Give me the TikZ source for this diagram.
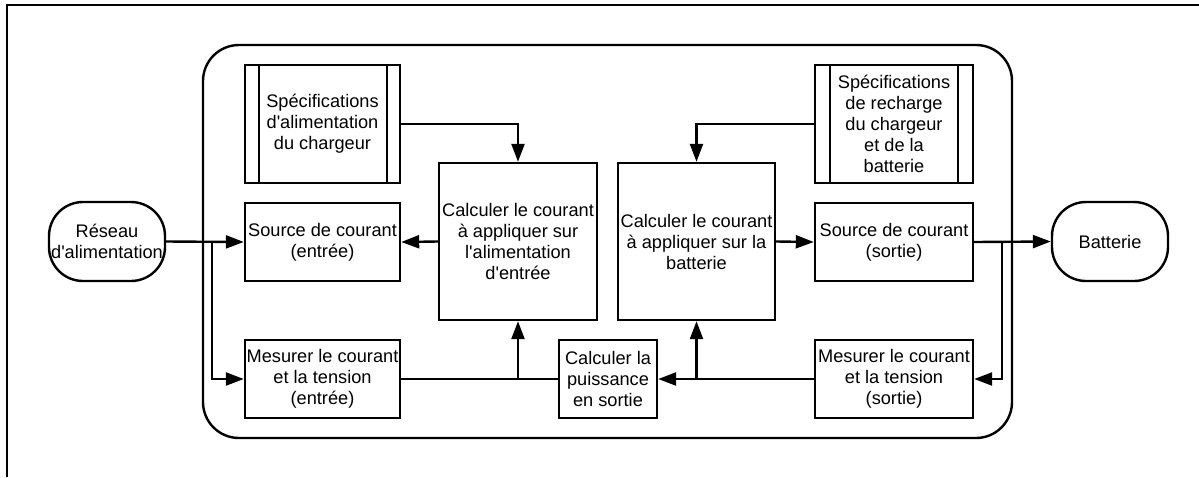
\documentclass[tikz,border=0pt]{standalone}
\usepackage{fontspec}
\setmainfont{Liberation Sans}
\usetikzlibrary{arrows.meta,calc}
\newcommand{\ap}{\textquotesingle}
\newcommand{\fs}{\fontsize{18.2}{21}\selectfont}
\begin{document}
\begin{tikzpicture}[x=1pt,y=-1pt,
  line width=2.4pt,
  box/.style={draw, line width=2.4pt, align=center, inner sep=0pt, font=\fs},
  term/.style={box, rounded corners=34pt, minimum width=116pt, minimum height=79pt},
  arr/.style={-{Triangle[length=18pt,width=13pt]}}]
\useasboundingbox (0,0) rectangle (1199,477);
% frame
\draw[line width=2.5pt] (7,477) -- (7,5) -- (1199,5);
% container
\draw[rounded corners=36pt] (203,45) rectangle (1012,438);
% nodes
\node[term] (rs) at (107,241.5) {R\'eseau\\d\ap alimentation};
\node[term] (bat) at (1110,241.5) {Batterie};
\node[box, minimum width=155pt, minimum height=118pt] (s1) at (322.5,124) {Sp\'ecifications\\d\ap alimentation\\du chargeur};
\node[box, minimum width=158pt, minimum height=118pt] (s2) at (894,124) {Sp\'ecifications\\de recharge\\du chargeur\\et de la\\batterie};
\draw ([xshift=15pt]s1.north west) -- ([xshift=15pt]s1.south west);
\draw ([xshift=-14pt]s1.north east) -- ([xshift=-14pt]s1.south east);
\draw ([xshift=16pt]s2.north west) -- ([xshift=16pt]s2.south west);
\draw ([xshift=-16pt]s2.north east) -- ([xshift=-16pt]s2.south east);
\node[box, minimum width=155pt, minimum height=78pt] (e1) at (322.5,242) {Source de courant\\(entr\'ee)};
\node[box, minimum width=158pt, minimum height=78pt] (e2) at (894,242) {Source de courant\\(sortie)};
\node[box, minimum width=155pt, minimum height=78pt] (m1) at (322.5,379) {Mesurer le courant\\et la tension\\(entr\'ee)};
\node[box, minimum width=158pt, minimum height=78pt] (m2) at (894,379) {Mesurer le courant\\et la tension\\(sortie)};
\node[box, minimum width=158pt, minimum height=157pt] (c1) at (518,241.5) {Calculer le courant\\\`a appliquer sur\\l\ap alimentation\\d\ap entr\'ee};
\node[box, minimum width=157pt, minimum height=157pt] (c2) at (696.5,241.5) {Calculer le courant\\\`a appliquer sur la\\batterie};
\node[box, minimum width=98pt, minimum height=78pt] (p) at (608,379) {Calculer la\\puissance\\en sortie};
% junctions
\coordinate (j1) at (212,241.5);
\coordinate (j2) at (1002,241.5);
\coordinate (j3) at (c1.south |- m1.east);
\coordinate (j4) at (c2.south |- m2.west);
% connectors
\draw[arr] (rs.east) -- (e1.west);
\draw[arr] (j1) |- (m1.west);
\draw[arr] (e2.east) -- (bat.west);
\draw[arr] (j2) |- (m2.east);
\draw[arr] (s1.east) -| (c1.north);
\draw[arr] (s2.west) -| (c2.north);
\draw[arr] (c1.west) -- (e1.east);
\draw[arr] (c2.east) -- (e2.west);
\draw (m1.east) -- (p.west);
\draw[arr] (j3) -- (c1.south);
\draw[arr] (m2.west) -- (p.east);
\draw[arr] (j4) -- (c2.south);
\end{tikzpicture}
\end{document}
